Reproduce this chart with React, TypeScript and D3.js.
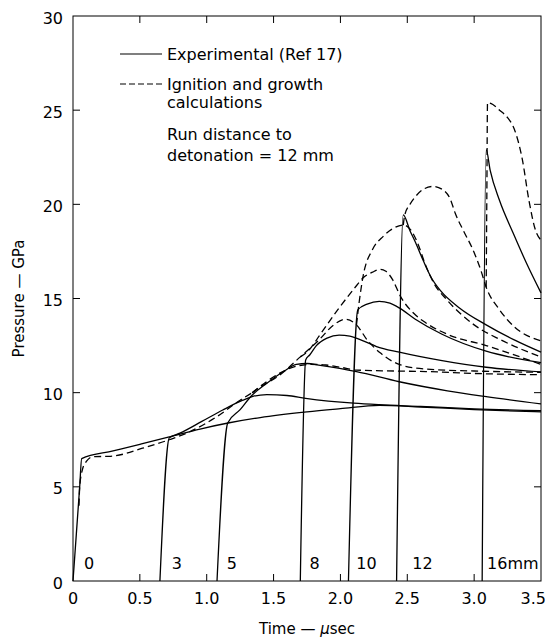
import React from "react";
import * as d3 from "d3";

type P = [number, number];

// Experimental gauge records (solid), time µs, pressure GPa
const exp0: P[] = [[0.0, 0], [0.05, 5.0], [0.065, 6.5], [0.3, 6.91], [0.5, 7.26], [0.72, 7.65], [0.95, 8.07], [1.16, 8.39], [1.4, 8.68], [1.75, 8.98], [2.0, 9.15], [2.29, 9.33], [2.6, 9.24], [3.0, 9.1], [3.5, 8.98]];
const exp3: P[] = [[0.65, 0], [0.72, 7.6], [0.8, 7.85], [0.96, 8.46], [1.12, 9.08], [1.27, 9.6], [1.345, 9.8], [1.45, 9.9], [1.6, 9.85], [1.74, 9.7], [2.1, 9.44], [2.29, 9.36], [2.6, 9.27], [3.0, 9.14], [3.5, 9.04]];
const exp5: P[] = [[1.077, 0], [1.157, 8.39], [1.25, 9.1], [1.33, 9.8], [1.45, 10.5], [1.58, 11.15], [1.67, 11.5], [1.75, 11.55], [1.85, 11.45], [2.12, 11.12], [2.44, 10.58], [2.8, 10.1], [3.09, 9.79], [3.5, 9.4]];
const exp8: P[] = [[1.7, 0], [1.74, 11.74], [1.77, 12.0], [1.82, 12.5], [1.9, 12.9], [1.99, 13.06], [2.07, 13.0], [2.17, 12.75], [2.27, 12.45], [2.44, 12.15], [2.76, 11.7], [3.09, 11.35], [3.5, 11.1]];
const exp10: P[] = [[2.06, 0], [2.13, 14.4], [2.2, 14.7], [2.29, 14.85], [2.37, 14.75], [2.44, 14.5], [2.56, 13.9], [2.76, 13.1], [3.09, 12.2], [3.5, 11.6]];
const exp12: P[] = [[2.42, 0], [2.47, 19.44], [2.52, 18.6], [2.56, 18.0], [2.62, 17.0], [2.68, 16.1], [2.75, 15.4], [2.89, 14.5], [3.09, 13.6], [3.3, 12.8], [3.5, 12.15]];
const exp16: P[] = [[3.06, 0], [3.09, 22.9], [3.12, 21.8], [3.19, 20.2], [3.29, 18.5], [3.39, 16.9], [3.5, 15.3]];

// Ignition and growth calculations (dashed)
const calc0: P[] = [[0.045, 4.0], [0.05, 5.0], [0.07, 5.9], [0.1, 6.35], [0.15, 6.6], [0.28, 6.62], [0.52, 7.05], [0.72, 7.5], [0.85, 7.85], [1.07, 8.7], [1.25, 9.6], [1.34, 10.0]];
const calc5: P[] = [[1.34, 10.0], [1.45, 10.6], [1.55, 11.05], [1.67, 11.4], [1.78, 11.5], [1.89, 11.47], [2.0, 11.35], [2.12, 11.2], [2.4, 11.15], [2.64, 11.12], [3.0, 11.02], [3.5, 10.95]];
const calc8: P[] = [[1.34, 10.0], [1.4, 10.3], [1.54, 10.9], [1.7, 11.9], [1.84, 12.8], [1.95, 13.6], [2.04, 13.9], [2.12, 13.6], [2.2, 12.8], [2.3, 12.1], [2.44, 11.5], [2.64, 11.25], [3.0, 11.15], [3.5, 11.08]];
const calc10: P[] = [[1.7, 11.9], [1.77, 12.3], [1.84, 13.0], [1.99, 14.5], [2.1, 15.5], [2.17, 16.1], [2.24, 16.4], [2.3, 16.55], [2.34, 16.45], [2.39, 16.0], [2.45, 15.1], [2.55, 14.2], [2.64, 13.7], [2.8, 13.1], [3.09, 12.5], [3.5, 11.5]];
const calc12a: P[] = [[2.12, 13.6], [2.14, 14.8], [2.17, 16.2], [2.24, 17.6], [2.32, 18.3], [2.39, 18.7], [2.47, 18.9], [2.53, 18.6], [2.58, 17.9], [2.63, 16.9], [2.7, 15.8], [2.8, 14.9], [3.0, 13.6], [3.2, 12.8], [3.5, 11.9]];
const calc12b: P[] = [[2.47, 18.9], [2.48, 19.4], [2.52, 20.0], [2.56, 20.4], [2.62, 20.8], [2.69, 20.95], [2.76, 20.8], [2.82, 20.3], [2.86, 19.5], [2.92, 18.6], [2.99, 17.6], [3.05, 16.5], [3.09, 15.6], [3.19, 14.4], [3.3, 13.5], [3.5, 12.75]];
const calc16: P[] = [[3.09, 15.6], [3.095, 20.5], [3.1, 25.4], [3.14, 25.3], [3.19, 25.0], [3.25, 24.6], [3.3, 24.0], [3.36, 22.4], [3.41, 20.2], [3.46, 18.6], [3.5, 18.1]];

const experimental = [exp0, exp3, exp5, exp8, exp10, exp12, exp16];
const calculated = [calc0, calc5, calc8, calc10, calc12a, calc12b, calc16];

const gaugeLabels = ["0", "3", "5", "8", "10", "12", "16mm"];
const gaugeLabelT = [0.082, 0.739, 1.149, 1.769, 2.119, 2.537, 3.097];

const xTicks = [0, 0.5, 1.0, 1.5, 2.0, 2.5, 3.0, 3.5];
const xTickLabels = ["0", "0.5", "1.0", "1.5", "2.0", "2.5", "3.0", "3.5"];
const yTicks = [0, 5, 10, 15, 20, 25, 30];

const legendItems = ["Experimental (Ref 17)", "Ignition and growth", "calculations"];
const noteLines = ["Run distance to", "detonation = 12 mm"];

export default function App() {
  const W = 548, H = 639;
  const x = d3.scaleLinear().domain([0, 3.5]).range([73, 541]);
  const y = d3.scaleLinear().domain([0, 30]).range([581, 16]);
  const line = d3.line<P>().x(d => x(d[0])).y(d => y(d[1])).curve(d3.curveMonotoneX);
  const font = "'DejaVu Sans', 'Liberation Sans', Arial, sans-serif";
  const tk = 7;
  return (
    <svg width={W} height={H} style={{ position: "absolute", left: 0, top: 0, background: "#fff" }} fontFamily={font}>
      <rect x={0} y={0} width={W} height={H} fill="#fff" />
      {/* frame */}
      <rect x={x(0)} y={y(30)} width={x(3.5) - x(0)} height={y(0) - y(30)} fill="none" stroke="#000" strokeWidth={1} />
      {/* ticks */}
      {xTicks.slice(1, -1).map(t => (
        <g key={"xt" + t}>
          <line x1={x(t)} x2={x(t)} y1={y(0)} y2={y(0) - tk} stroke="#000" />
          <line x1={x(t)} x2={x(t)} y1={y(30)} y2={y(30) + tk} stroke="#000" />
        </g>
      ))}
      {yTicks.slice(1, -1).map(v => (
        <g key={"yt" + v}>
          <line x1={x(0)} x2={x(0) + tk} y1={y(v)} y2={y(v)} stroke="#000" />
          <line x1={x(3.5)} x2={x(3.5) - tk} y1={y(v)} y2={y(v)} stroke="#000" />
        </g>
      ))}
      {xTicks.map((t, i) => {
        const last = i === xTicks.length - 1;
        return (
          <text key={"xl" + t} x={last ? W - 2 : x(t)} y={y(0) + 23} fontSize={16} textAnchor={last ? "end" : "middle"}>{xTickLabels[i]}</text>
        );
      })}
      {yTicks.map(v => (
        <text key={"yl" + v} x={x(0) - 10} y={y(v) + 7.5} fontSize={16} textAnchor="end">{v}</text>
      ))}
      <text x={307} y={634} fontSize={15} textAnchor="middle">Time — <tspan fontStyle="italic">µ</tspan>sec</text>
      <text transform={`translate(24, ${y(15)}) rotate(-90)`} fontSize={15} textAnchor="middle">Pressure — GPa</text>

      {/* curves */}
      {calculated.map((c, i) => (
        <path key={"c" + i} d={line(c) || ""} fill="none" stroke="#000" strokeWidth={1.3} strokeDasharray="7,4" />
      ))}
      {experimental.map((c, i) => (
        <path key={"e" + i} d={line(c) || ""} fill="none" stroke="#000" strokeWidth={1.3} />
      ))}

      {gaugeLabels.map((l, i) => (
        <text key={"g" + i} x={x(gaugeLabelT[i])} y={y(0) - 12} fontSize={16}>{l}</text>
      ))}

      {/* legend */}
      <line x1={120} x2={162} y1={54} y2={54} stroke="#000" strokeWidth={1.2} />
      <line x1={120} x2={162} y1={84} y2={84} stroke="#000" strokeWidth={1.2} strokeDasharray="6,3" />
      <text x={167} y={60} fontSize={16}>{legendItems[0]}</text>
      <text x={167} y={90} fontSize={16}>{legendItems[1]}</text>
      <text x={167} y={108} fontSize={16}>{legendItems[2]}</text>
      <text x={167} y={140} fontSize={16}>{noteLines[0]}</text>
      <text x={167} y={161} fontSize={16}>{noteLines[1]}</text>
    </svg>
  );
}
